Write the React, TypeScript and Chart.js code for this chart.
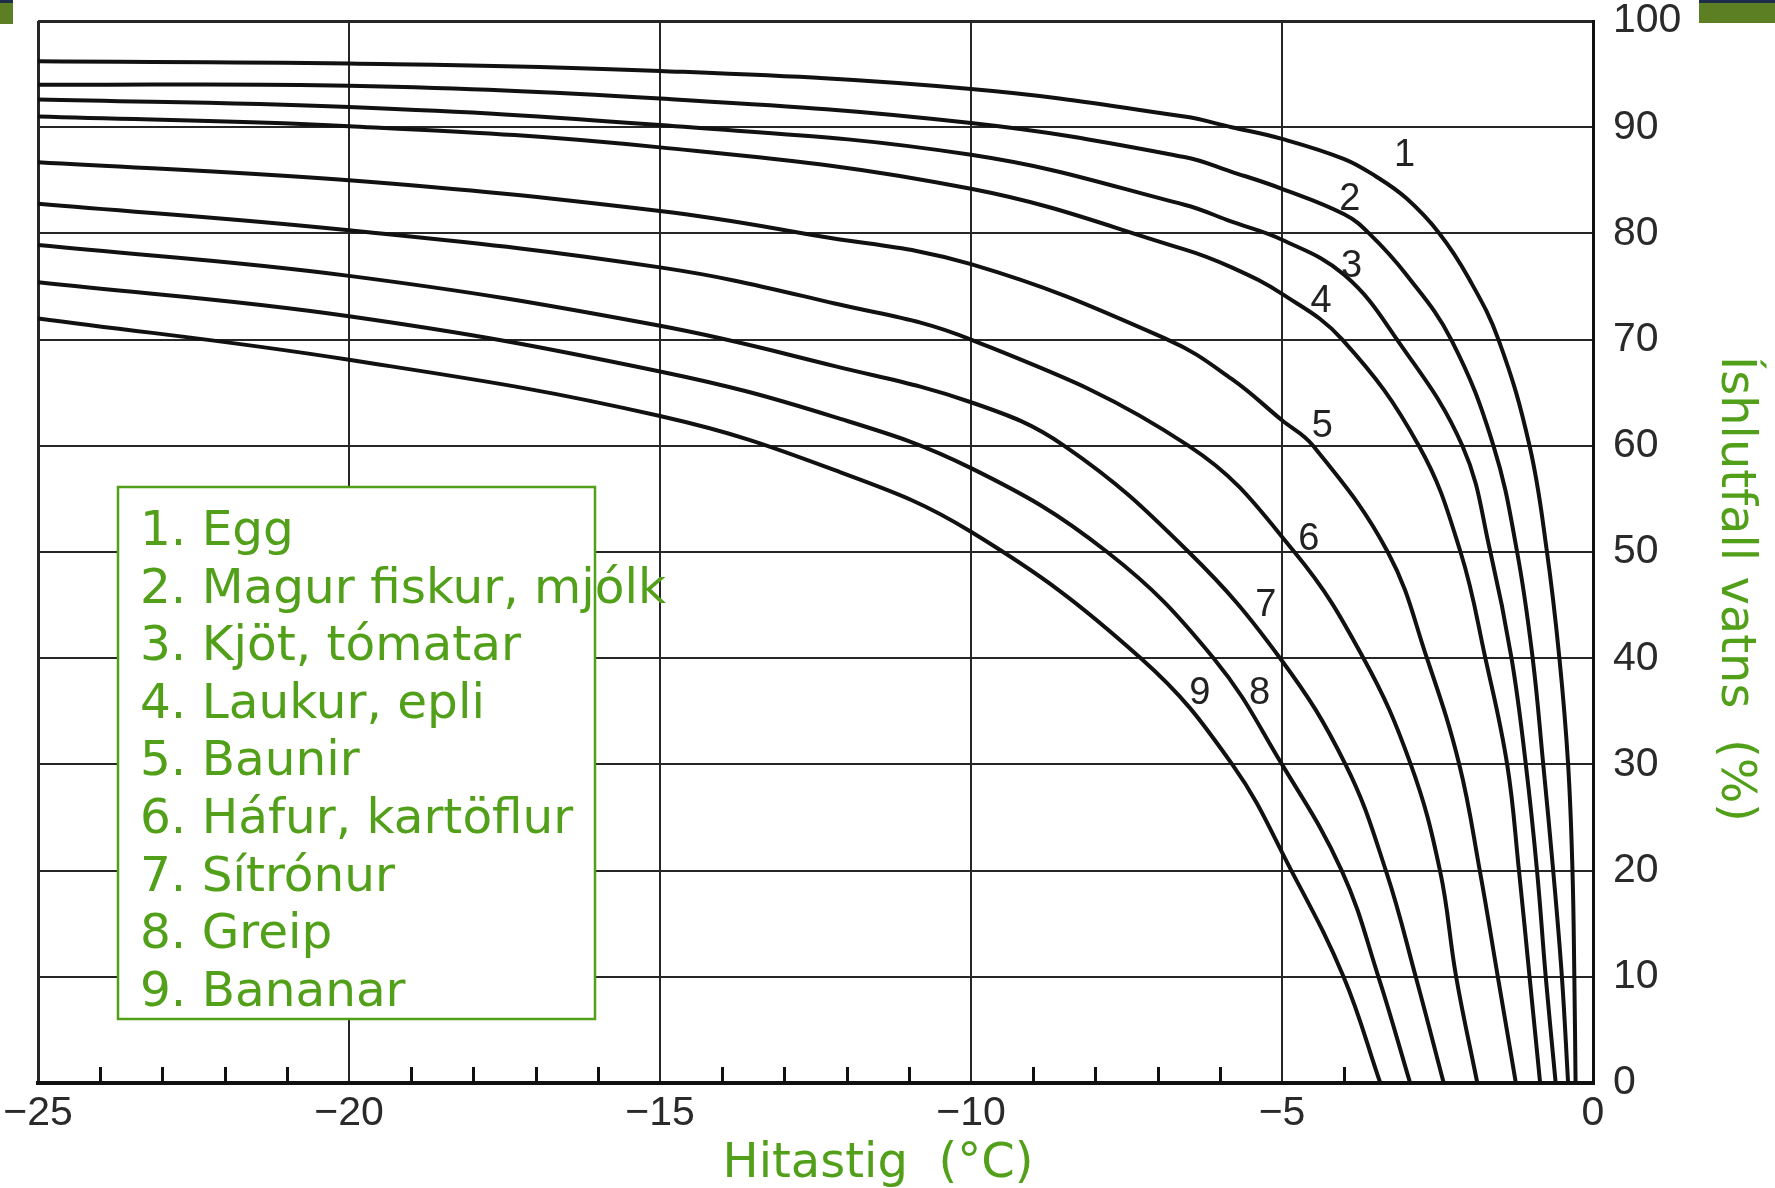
import React, { useEffect, useRef } from 'react';
import { Chart, registerables } from 'chart.js';

Chart.register(...registerables);

const W = 1775;
const H = 1188;

// Ice fraction of water (%) against temperature (°C), one pair of arrays per food
const eggTemp = [-25, -20, -15, -10, -6.57, -5.81, -5, -4, -3.5, -3, -2.47, -2, -1.52, -1.02, -0.74, -0.54, -0.4, -0.33, -0.3, -0.28];
const eggIce = [96.2, 96.0, 95.3, 93.6, 91.0, 90.0, 88.9, 87.0, 85.4, 83.3, 80, 75.8, 70, 60, 50, 40, 30, 20, 10, 0];

const fishTemp = [-25, -20, -15, -10, -6.57, -5.81, -5, -4, -3.6, -3, -2.28, -1.6, -1.22, -0.97, -0.8, -0.64, -0.5, -0.4];
const fishIce = [94.0, 93.9, 92.7, 90.4, 87.2, 85.8, 84.2, 81.8, 80, 76.1, 70, 60, 50, 40, 30, 20, 10, 0];

const meatTemp = [-25, -20, -15, -10, -6.57, -5.81, -5, -4, -3.15, -2.1, -1.65, -1.31, -1.08, -0.9, -0.76, -0.6];
const meatIce = [92.6, 91.9, 90.2, 87.4, 82.7, 81.1, 79.4, 76.1, 70, 60, 50, 40, 30, 20, 10, 0];

const onionTemp = [-25, -20, -15, -10, -6.57, -5.81, -5, -4.03, -2.8, -2.13, -1.73, -1.38, -1.19, -1.02, -0.85];
const onionIce = [91.0, 90.1, 88.1, 84.2, 78.5, 76.8, 74.3, 70, 60, 50, 40, 30, 20, 10, 0];

const beanTemp = [-25, -20, -15, -12.5, -10, -6.84, -5.81, -5, -4.5, -3.3, -2.67, -2.15, -1.82, -1.53, -1.24];
const beanIce = [86.7, 85.0, 82.1, 79.8, 77.1, 70, 66.3, 62.4, 60, 50, 40, 30, 20, 10, 0];

const oatTemp = [-25, -20, -15, -12.19, -10, -6.5, -4.8, -3.69, -2.93, -2.46, -2.2, -1.86];
const oatIce = [82.8, 80.3, 76.8, 73.4, 70.0, 60, 50, 40, 30, 20, 10, 0];

const lemonTemp = [-25, -20, -15, -12.19, -10, -8.5, -6.5, -5.03, -3.98, -3.33, -2.85, -2.4];
const lemonIce = [78.9, 76.0, 71.3, 67.5, 64.1, 60, 50, 40, 30, 20, 10, 0];

const grapeTemp = [-25, -20, -15, -12.19, -10, -7.81, -6.1, -5.0, -4.04, -3.45, -2.94];
const grapeIce = [75.4, 72.2, 67.0, 62.7, 57.9, 50, 40, 30, 20, 10, 0];

const bananaTemp = [-25, -20, -15, -12.19, -10, -7.27, -5.8, -4.85, -4.01, -3.42];
const bananaIce = [72.0, 68.1, 62.8, 57.7, 51.9, 40, 30, 20, 10, 0];

const seriesTemps = [eggTemp, fishTemp, meatTemp, onionTemp, beanTemp, oatTemp, lemonTemp, grapeTemp, bananaTemp];
const seriesIce = [eggIce, fishIce, meatIce, onionIce, beanIce, oatIce, lemonIce, grapeIce, bananaIce];

const foodNames = [
  'Egg',
  'Magur fiskur, mjólk',
  'Kjöt, tómatar',
  'Laukur, epli',
  'Baunir',
  'Háfur, kartöflur',
  'Sítrónur',
  'Greip',
  'Bananar',
];

// Where each curve's number is written (°C, %)
const numberTemp = [-3.03, -3.91, -3.88, -4.37, -4.35, -4.57, -5.26, -5.36, -6.32];
const numberIce = [87.3, 83.2, 76.9, 73.6, 61.8, 51.2, 45.0, 36.7, 36.7];

const xTickLabels = ['−25', '−20', '−15', '−10', '−5', '0'];
const xMinorTicks = [-24, -23, -22, -21, -19, -18, -17, -16, -14, -13, -12, -11, -9, -8, -7, -6, -4];

const xTitle = 'Hitastig  (°C)';
const yTitle = 'Íshlutfall vatns  (%)';

const GREEN = '#52a01a';
const INK = '#111111';
const GRID = '#262626';
const NUM_FONT = '"Liberation Sans", Arial, sans-serif';
const TEXT_FONT = '"DejaVu Sans", Verdana, sans-serif';

const decorPlugin = {
  id: 'decor',
  beforeDatasetsDraw(chart: any) {
    const ctx = chart.ctx;
    // legend box
    ctx.save();
    ctx.fillStyle = '#ffffff';
    ctx.fillRect(118, 487, 477, 532);
    ctx.fillStyle = GREEN;
    ctx.font = `48.5px ${TEXT_FONT}`;
    ctx.textAlign = 'left';
    ctx.textBaseline = 'alphabetic';
    foodNames.forEach((name, i) => {
      ctx.fillText(`${i + 1}. ${name}`, 140, 545 + i * 57.6);
    });
    ctx.strokeStyle = GREEN;
    ctx.lineWidth = 2.5;
    ctx.strokeRect(118, 487, 477, 532);
    ctx.restore();
  },
  afterDatasetsDraw(chart: any) {
    const ctx = chart.ctx;
    const xs = chart.scales.x;
    const ys = chart.scales.y;
    const { bottom } = chart.chartArea;
    ctx.save();
    // small ticks standing on the temperature axis
    ctx.strokeStyle = INK;
    ctx.lineWidth = 3;
    xMinorTicks.forEach((v) => {
      const px = Math.round(xs.getPixelForValue(v)) + 0.5;
      ctx.beginPath();
      ctx.moveTo(px, bottom);
      ctx.lineTo(px, bottom - 16);
      ctx.stroke();
    });
    // curve numbers
    ctx.fillStyle = '#222';
    ctx.font = `38px ${NUM_FONT}`;
    ctx.textAlign = 'center';
    ctx.textBaseline = 'middle';
    numberTemp.forEach((t, i) => {
      ctx.fillText(String(i + 1), xs.getPixelForValue(t), ys.getPixelForValue(numberIce[i]));
    });
    ctx.restore();
  },
  afterDraw(chart: any) {
    const ctx = chart.ctx;
    ctx.save();
    ctx.fillStyle = GREEN;
    ctx.font = `48px ${TEXT_FONT}`;
    ctx.textAlign = 'center';
    ctx.textBaseline = 'alphabetic';
    ctx.fillText(xTitle, 878, 1177);
    ctx.translate(1722, 589);
    ctx.rotate(Math.PI / 2);
    ctx.fillText(yTitle, 0, 0);
    ctx.restore();
  },
};

export default function App() {
  const canvasRef = useRef<HTMLCanvasElement | null>(null);

  useEffect(() => {
    const canvas = canvasRef.current;
    if (!canvas) return;
    const datasets = seriesTemps.map((temps, i) => ({
      label: foodNames[i],
      data: temps.map((t, j) => ({ x: t, y: seriesIce[i][j] })),
      borderColor: INK,
      borderWidth: 4,
      pointRadius: 0,
      fill: false,
      tension: 0.4,
    }));

    const chart = new Chart(canvas, {
      type: 'line',
      data: { datasets },
      options: {
        responsive: false,
        animation: false,
        devicePixelRatio: 1,
        layout: { padding: { left: 38, top: 21, right: 0, bottom: 0 } },
        plugins: {
          legend: { display: false },
          tooltip: { enabled: false },
        },
        scales: {
          x: {
            type: 'linear',
            position: 'bottom',
            min: -25,
            max: 0,
            afterFit: (s: any) => {
              s.height = 105;
              s.paddingLeft = 0;
              s.paddingRight = 0;
            },
            ticks: {
              stepSize: 5,
              padding: 10,
              autoSkip: false,
              maxRotation: 0,
              color: '#2a2a2a',
              font: { family: NUM_FONT, size: 41, lineHeight: 1 },
              callback: (_v: any, idx: number) => xTickLabels[idx] ?? '',
            },
            grid: {
              color: GRID,
              lineWidth: (c: any) => (c.tick && c.tick.value === -25 ? 3 : 2),
              drawTicks: false,
            },
            border: { color: INK, width: 4 },
          },
          y: {
            type: 'linear',
            position: 'right',
            min: 0,
            max: 100,
            afterFit: (s: any) => {
              s.width = 182;
              s.paddingTop = 0;
              s.paddingBottom = 0;
            },
            ticks: {
              stepSize: 10,
              padding: 20,
              color: '#2a2a2a',
              font: { family: NUM_FONT, size: 41, lineHeight: 1 },
            },
            grid: {
              color: GRID,
              lineWidth: (c: any) => (c.tick && c.tick.value === 100 ? 3 : 2),
              drawTicks: false,
            },
            border: { color: INK, width: 3 },
          },
        },
      } as any,
      plugins: [decorPlugin],
    });
    return () => chart.destroy();
  }, []);

  return (
    <div style={{ position: 'fixed', left: 0, top: 0, width: W, height: H, background: '#ffffff', overflow: 'hidden' }}>
      <canvas ref={canvasRef} width={W} height={H} style={{ display: 'block', width: W, height: H }} />
      <div style={{ position: 'absolute', left: 0, top: 0, width: 13, height: 24, background: '#5b7f22' }}>
        <div style={{ height: 3, background: '#1d2d4a' }} />
      </div>
      <div style={{ position: 'absolute', left: 1699, top: 0, width: 76, height: 23, background: '#5b7f22' }}>
        <div style={{ height: 3, background: '#1d2d4a' }} />
      </div>
    </div>
  );
}
